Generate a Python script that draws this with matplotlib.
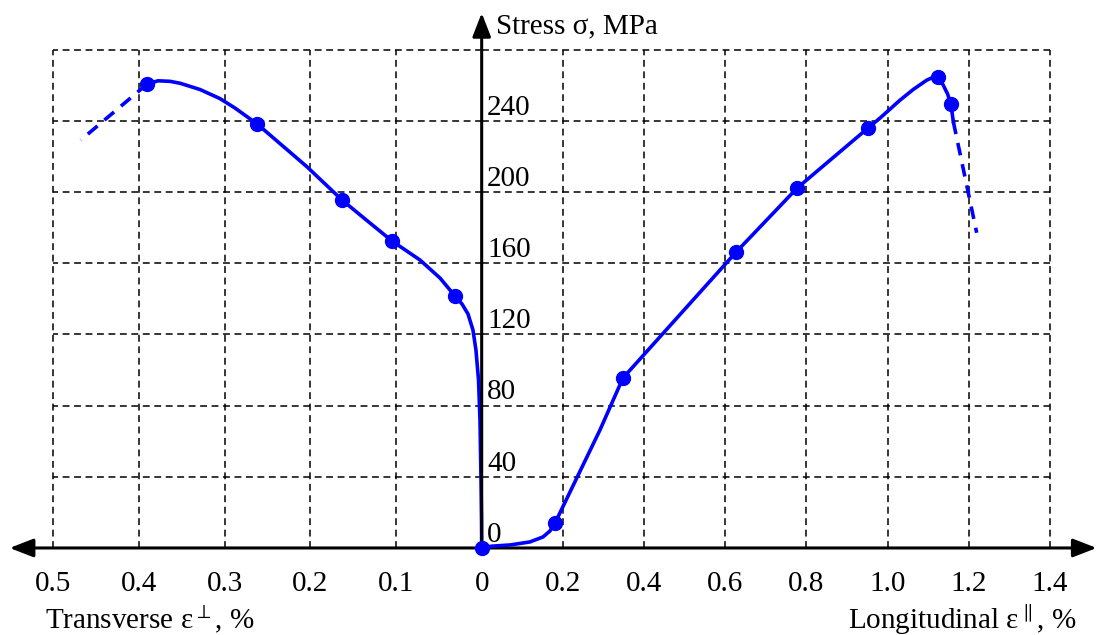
import matplotlib.pyplot as plt

plt.rcParams['font.family'] = ['Liberation Serif', 'DejaVu Serif']
plt.rcParams['mathtext.fontset'] = 'custom'
plt.rcParams['mathtext.rm'] = 'Liberation Serif'
plt.rcParams['mathtext.it'] = 'Liberation Serif'

# transverse side (left), strain in %, stress in MPa
trans_curve_x = [0, 0.0002, 0.0008, 0.002, 0.0037, 0.0067, 0.0102, 0.016, 0.023, 0.0312,
                 0.0487, 0.072, 0.1047, 0.134, 0.163, 0.204, 0.262, 0.288, 0.3055, 0.3288,
                 0.352, 0.3638, 0.3778, 0.3905]
trans_curve_y = [0, 15.7, 38.2, 71.9, 94.4, 111.2, 122.5, 131.5, 137.1, 141.6,
                 151.7, 161.8, 172.5, 184, 195.5, 214.2, 238.2, 247.2, 252.5, 257.6,
                 261.1, 262.2, 262.5, 260.7]
trans_pts_x = [0.0312, 0.1047, 0.163, 0.262, 0.3905]
trans_pts_y = [141.6, 172.5, 195.5, 238.2, 260.7]
trans_dash_x = [0.3905, 0.468]
trans_dash_y = [260.7, 229.2]

# longitudinal side (right)
long_curve_x = [0, 0.025, 0.07, 0.119, 0.151, 0.168, 0.1806, 0.2914, 0.348, 0.627, 0.777,
                0.952, 0.981, 1.03, 1.063, 1.096, 1.112, 1.124, 1.137, 1.148, 1.156, 1.162]
long_curve_y = [0, 1.0, 1.7, 3.4, 6.2, 9.5, 14.0, 66.3, 95.5, 166.3, 202.2,
                236, 241.5, 251.5, 257.6, 262.8, 264.5, 264.8, 260.1, 255, 249.3, 239.5]
long_pts_x = [0, 0.1806, 0.348, 0.627, 0.777, 0.952, 1.124, 1.156]
long_pts_y = [0, 14.0, 95.5, 166.3, 202.2, 236, 264.8, 249.3]
long_dash_x = [1.162, 1.2195]
long_dash_y = [239.5, 177.1]

stress_ticks = [0, 40, 80, 120, 160, 200, 240]
stress_grid = [40, 80, 120, 160, 200, 240, 280]
trans_ticks = [0.5, 0.4, 0.3, 0.2, 0.1]
long_ticks = [0.2, 0.4, 0.6, 0.8, 1.0, 1.2, 1.4]

blue = '#0000ff'
fs = 21

fig = plt.figure(figsize=(10.97, 6.35), dpi=100)
axL = fig.add_axes([0, 0, 0.4391, 1])
axR = fig.add_axes([0.4391, 0, 0.5609, 1])
for ax in (axL, axR):
    ax.axis('off')
    ax.set_ylim(-48.9, 307.9)
axL.set_xlim(0.5623, 0)
axR.set_xlim(0, 1.5159)

grid_kw = dict(color='black', lw=1.1, linestyles=(0, (4.5, 3)), zorder=1)
axL.vlines(trans_ticks, 0, 280, **grid_kw)
axL.hlines(stress_grid, 0, 0.5, **grid_kw)
axR.vlines(long_ticks, 0, 280, **grid_kw)
axR.hlines(stress_grid, 0, 1.4, **grid_kw)

arrow = dict(arrowstyle='-|>,head_length=0.9,head_width=0.35', lw=2.2, color='black',
             mutation_scale=16, shrinkA=0, shrinkB=0)
axL.annotate('', xy=(0.551, 0), xytext=(0, 0), arrowprops=arrow, annotation_clip=False)
axR.annotate('', xy=(1.515, 0), xytext=(0, 0), arrowprops=arrow, annotation_clip=False)
axR.annotate('', xy=(0, 300.6), xytext=(0, 0), arrowprops=arrow, annotation_clip=False)

axL.plot(trans_curve_x, trans_curve_y, color=blue, lw=2.6, zorder=3, clip_on=False)
axL.plot(trans_dash_x, trans_dash_y, color=blue, lw=2.6, ls=(0, (3.5, 2.5)), zorder=3)
axL.plot(trans_pts_x, trans_pts_y, 'o', color=blue, ms=10, zorder=4, clip_on=False)
axR.plot(long_curve_x, long_curve_y, color=blue, lw=2.6, zorder=3, clip_on=False)
axR.plot(long_dash_x, long_dash_y, color=blue, lw=2.6, ls=(0, (3.5, 2.5)), zorder=3)
axR.plot(long_pts_x, long_pts_y, 'o', color=blue, ms=10, zorder=4, clip_on=False)

for v in trans_ticks:
    axL.text(v, -20, f'{v:.1f}', ha='center', va='center', fontsize=fs)
axR.text(0, -20, '0', ha='center', va='center', fontsize=fs)
for v in long_ticks:
    axR.text(v, -20, f'{v:.1f}', ha='center', va='center', fontsize=fs)
for v in stress_ticks:
    axR.text(0.013, v + 3.5, str(v), ha='left', va='baseline', fontsize=fs)

axR.text(0.035, 289.3, 'Stress σ, MPa', ha='left', va='baseline', fontsize=fs)
axL.text(0.5097, -45.5, r'Transverse $ε^{\perp}$, %', ha='left', va='baseline', fontsize=fs)
axR.text(1.4655, -45.5, r'Longitudinal $ε^{\parallel}$, %', ha='right', va='baseline', fontsize=fs)

fig.savefig('out.png', dpi=100)
